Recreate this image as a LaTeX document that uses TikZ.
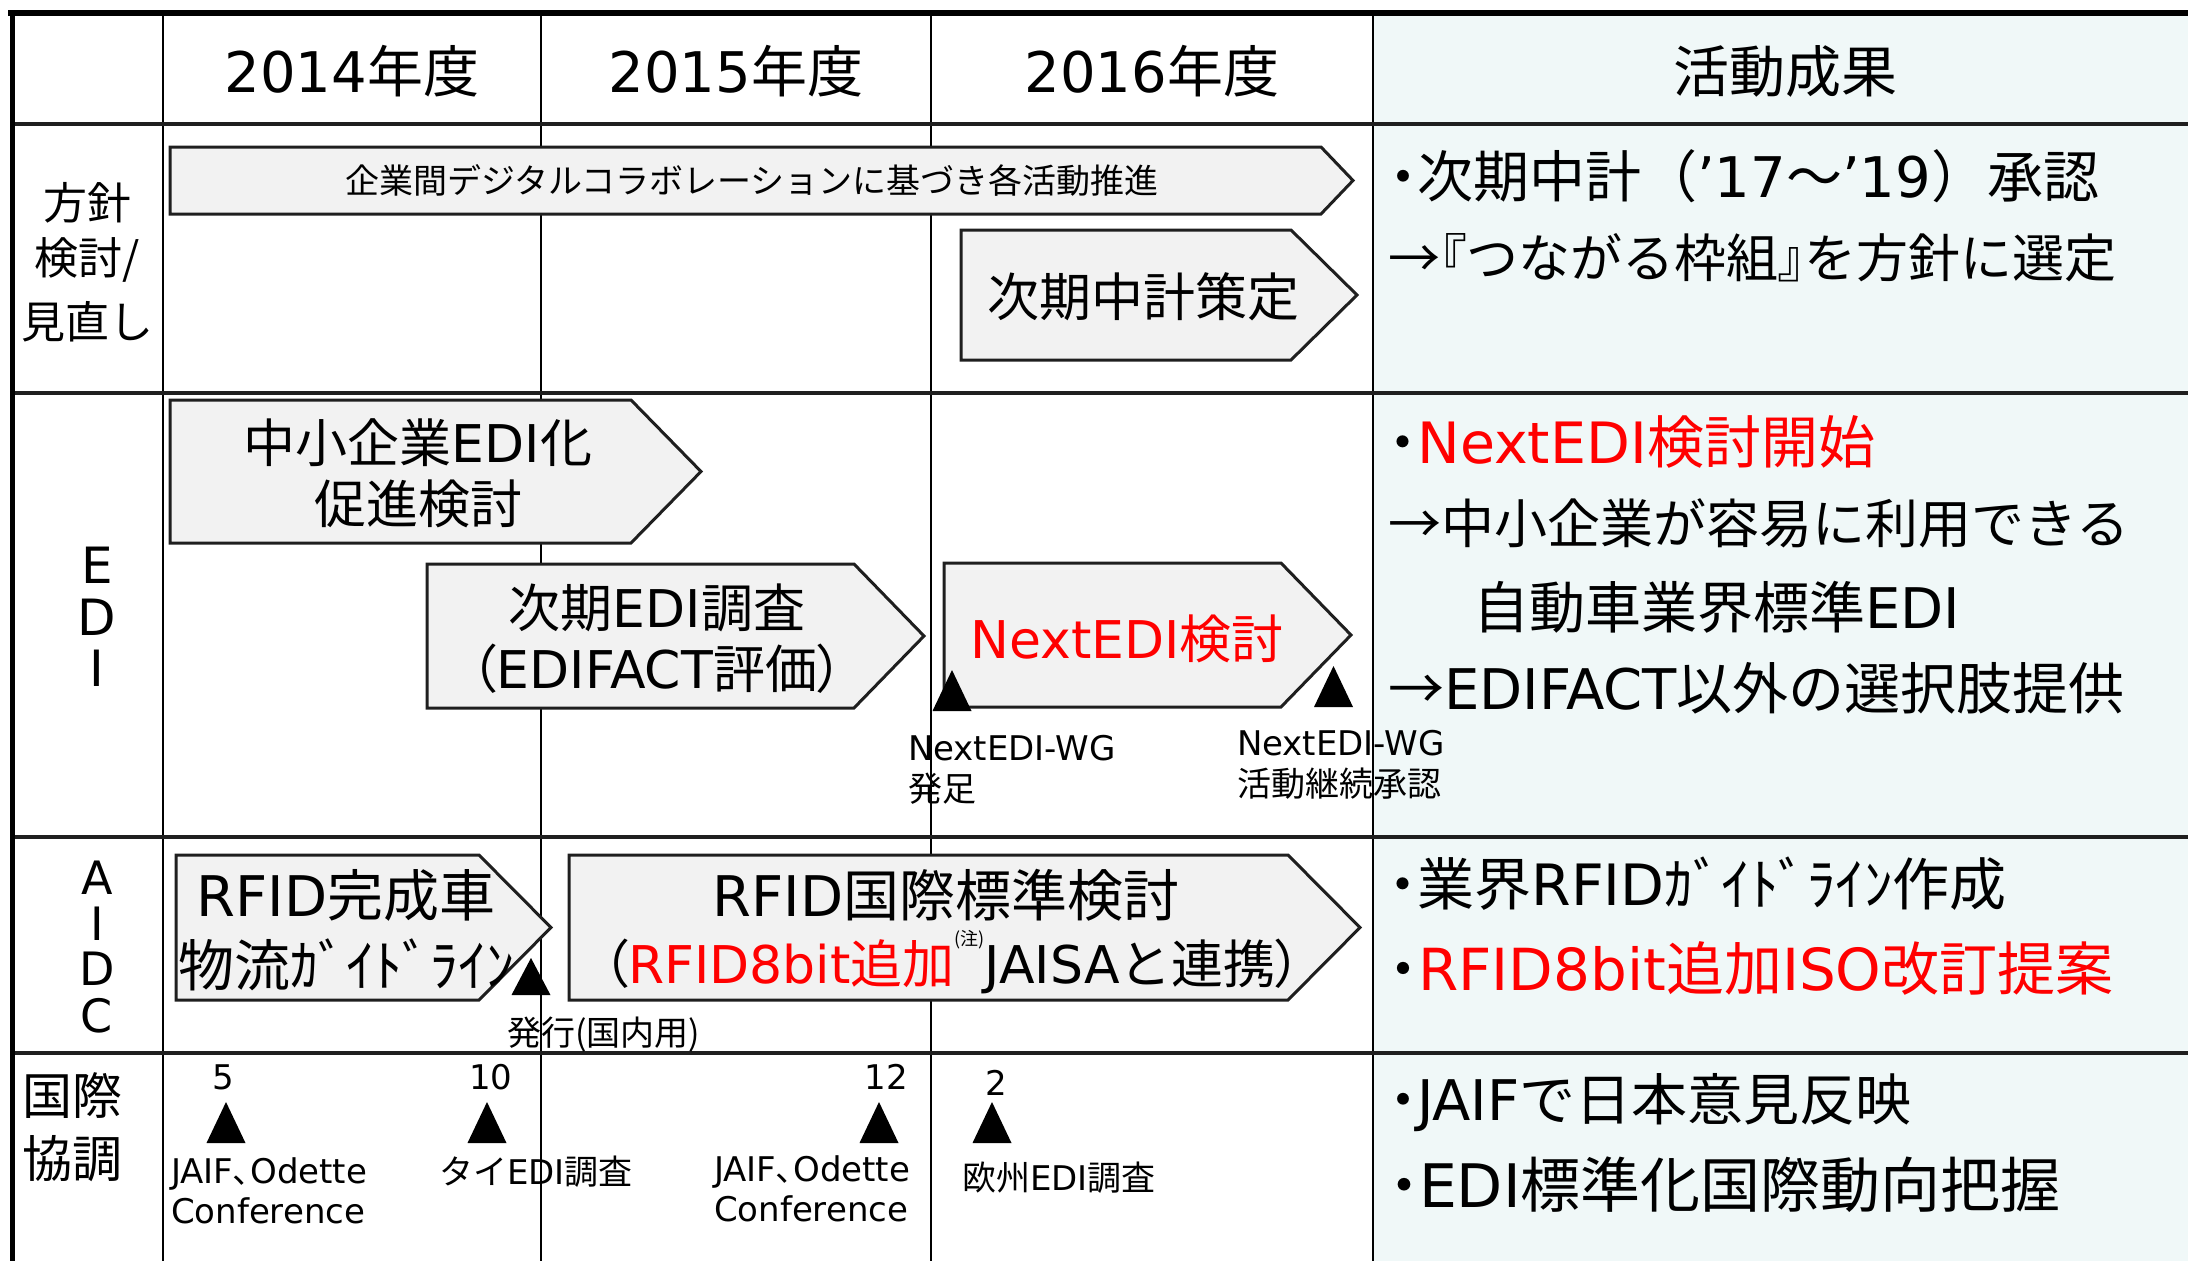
\documentclass[tikz,border=0pt]{standalone}
\usepackage{fontspec}
\setmainfont{Noto Sans CJK JP}
\newfontfamily\latf{DejaVu Sans}
\newfontfamily\jpp[RawFeature={+palt}]{Noto Sans CJK JP}
\newcommand\latxt[1]{{\latf #1}}
\newcommand\fsz[1]{\fontsize{#1}{#1}\selectfont}
\newcommand\bul{{\jpp ・}}
\definecolor{chevfill}{HTML}{F2F2F2}
\definecolor{rightfill}{HTML}{F0F8F8}
\newcommand\mychev[5]{\draw[chevst] (#1,#2) -- (#3,#2) -- (#4,{(#2+#5)/2}) -- (#3,#5) -- (#1,#5) -- cycle;}
\newcommand\tri[3]{\fill[black] (#1-19.5,#3) -- (#1+19.5,#3) -- (#1,#2) -- cycle;}
\begin{document}
\begin{tikzpicture}[x=1pt,y=-1pt,
  txt/.style={inner sep=0pt, outer sep=0pt},
  chevst/.style={fill=chevfill, draw=black!88, line width=3pt, line join=miter},
  hline/.style={line width=3.5pt, draw=black!88},
  vline/.style={line width=2pt, draw=black}]
\useasboundingbox (0,0) rectangle (2188,1261);
% right column fill
\fill[rightfill] (1373,13) rectangle (2188,1261);
% grid
\draw[vline] (163,13) -- (163,1261);
\draw[vline] (541,13) -- (541,1261);
\draw[vline] (931,13) -- (931,1261);
\draw[vline, line width=2.5pt] (1373,13) -- (1373,1261);
\draw[hline] (10,124) -- (2188,124);
\draw[hline] (10,393) -- (2188,393);
\draw[hline] (10,837) -- (2188,837);
\draw[hline] (10,1053) -- (2188,1053);
\draw[line width=6pt] (8,13) -- (2188,13);
\draw[line width=5pt] (12,10) -- (12,1261);

% chevrons
\mychev{170}{147}{1321}{1353}{214}
\mychev{961}{230}{1291}{1357}{360}
\mychev{170}{400}{631}{701}{543}
\mychev{427}{564}{854}{924}{708}
\mychev{944}{563}{1281}{1351}{707}
\mychev{176}{855}{479}{551}{1000}
\mychev{569}{855}{1288}{1360}{1000}

% triangles
\tri{952}{670}{711}
\tri{1333.5}{666}{707}
\tri{531}{958}{995}
\tri{226}{1102}{1143}
\tri{487}{1102}{1143}
\tri{879}{1102}{1143}
\tri{992}{1102}{1143}

% header
\node[txt, anchor=base] (h1) at (352,92) {\fsz{56}\latxt{2014}年度};
\node[txt, anchor=base] (h2) at (736,92) {\fsz{56}\latxt{2015}年度};
\node[txt, anchor=base] (h3) at (1152,92) {\fsz{56}\latxt{2016}年度};
\node[txt, anchor=base] (h4) at (1785,92) {\fsz{56}活動成果};

% row labels
\node[txt, anchor=base] (l1a) at (87,219) {\fsz{44}方針};
\node[txt, anchor=base] (l1b) at (87,274) {\fsz{44}検討/};
\node[txt, anchor=base] (l1c) at (87,338) {\fsz{44}見直し};
\node[txt, anchor=base] (l2a) at (97,583) {\fsz{50}\latxt{E}};
\node[txt, anchor=base] (l2b) at (97,635) {\fsz{50}\latxt{D}};
\node[txt, anchor=base] (l2c) at (97,686) {\fsz{50}\latxt{I}};
\node[txt, anchor=base] (l3a) at (97,894) {\fsz{46}\latxt{A}};
\node[txt, anchor=base] (l3b) at (97,940) {\fsz{46}\latxt{I}};
\node[txt, anchor=base] (l3c) at (97,985) {\fsz{46}\latxt{D}};
\node[txt, anchor=base] (l3d) at (97,1032) {\fsz{46}\latxt{C}};
\node[txt, anchor=base west] (l4a) at (22,1114) {\fsz{50}国際};
\node[txt, anchor=base west] (l4b) at (22,1177) {\fsz{50}協調};

% chevron texts
\node[txt, anchor=base] (cA) at (752,193) {\fsz{34}企業間デジタルコラボレーションに基づき各活動推進};
\node[txt, anchor=base] (cB) at (1143,316) {\fsz{52}次期中計策定};
\node[txt, anchor=base] (cC1) at (418,462) {\fsz{52}中小企業\latxt{EDI}化};
\node[txt, anchor=base] (cC2) at (418,523) {\fsz{52}促進検討};
\node[txt, anchor=base] (cD1) at (657,627) {\fsz{52}次期\latxt{EDI}調査};
\node[txt, anchor=base] (cD2) at (657,688) {\fsz{52}{\jpp （}\latxt{EDIFACT}評価{\jpp ）}};
\node[txt, anchor=base] (cE) at (1127,658) {\fsz{52}\textcolor{red}{\latxt{NextEDI}検討}};
\node[txt, anchor=base] (cF1) at (346,916) {\fsz{56}\latxt{RFID}完成車};
\node[txt, anchor=base] (cF2) at (346,986) {\fsz{56}物流ｶﾞｲﾄﾞﾗｲﾝ};
\node[txt, anchor=base] (cG1) at (946,916) {\fsz{56}\latxt{RFID}国際標準検討};
\node[txt, anchor=base] (cG2) at (952,983) {\fsz{52}{\jpp （}\textcolor{red}{\latxt{RFID8bit}追加}\raisebox{38pt}{\fsz{18}(注)}\latxt{JAISA}と連携{\jpp ）}};

% small labels
\node[txt, anchor=base west] (s1) at (908,760) {\fsz{34}\latxt{NextEDI-WG}};
\node[txt, anchor=base west] (s2) at (908,801) {\fsz{34}発足};
\node[txt, anchor=base west] (s3) at (1237,755) {\fsz{34}\latxt{NextEDI-WG}};
\node[txt, anchor=base west] (s4) at (1237,796) {\fsz{34}活動継続承認};
\node[txt, anchor=base west] (s5) at (507,1045) {\fsz{34}発行(国内用)};
\node[txt, anchor=base] (n1) at (223,1089) {\fsz{34}\latxt{5}};
\node[txt, anchor=base] (n2) at (491,1089) {\fsz{34}\latxt{10}};
\node[txt, anchor=base] (n3) at (886,1089) {\fsz{34}\latxt{12}};
\node[txt, anchor=base] (n4) at (996,1095) {\fsz{34}\latxt{2}};
\node[txt, anchor=base west] (s6) at (171,1183) {\fsz{34}\latxt{JAIF}{\jpp 、}\latxt{Odette}};
\node[txt, anchor=base west] (s7) at (171,1223) {\fsz{34}\latxt{Conference}};
\node[txt, anchor=base west] (s8) at (439,1184) {\fsz{34}タイ\latxt{EDI}調査};
\node[txt, anchor=base west] (s9) at (714,1181) {\fsz{34}\latxt{JAIF}{\jpp 、}\latxt{Odette}};
\node[txt, anchor=base west] (s10) at (714,1221) {\fsz{34}\latxt{Conference}};
\node[txt, anchor=base west] (s11) at (962,1190) {\fsz{34}欧州\latxt{EDI}調査};

% right column results
\node[txt, anchor=base west] (r1) at (1389,197) {\fsz{56}\bul 次期中計（\latxt{’17}～\latxt{’19}）承認};
\node[txt, anchor=base west] (r2) at (1388,277) {\fsz{52}→{\jpp 『}つながる枠組{\jpp 』}を方針に選定};
\node[txt, anchor=base west] (r3) at (1389,463) {\fsz{57}\bul\textcolor{red}{\latxt{NextEDI}検討開始}};
\node[txt, anchor=base west] (r4) at (1388,543) {\fsz{53}→中小企業が容易に利用できる};
\node[txt, anchor=base west] (r5) at (1473,628) {\fsz{56}自動車業界標準\latxt{EDI}};
\node[txt, anchor=base west] (r6) at (1388,709) {\fsz{56}→\latxt{EDIFACT}以外の選択肢提供};
\node[txt, anchor=base west] (r7) at (1389,905) {\fsz{57}\bul 業界\latxt{RFID}ｶﾞｲﾄﾞﾗｲﾝ作成};
\node[txt, anchor=base west] (r8) at (1389,990) {\fsz{58}\bul\textcolor{red}{\latxt{RFID8bit}追加\latxt{ISO}改訂提案}};
\node[txt, anchor=base west] (r9) at (1389,1120) {\fsz{56}\bul\latxt{JAIF}で日本意見反映};
\node[txt, anchor=base west] (r10) at (1389,1207) {\fsz{60}\bul\latxt{EDI}標準化国際動向把握};
\end{tikzpicture}
\end{document}
